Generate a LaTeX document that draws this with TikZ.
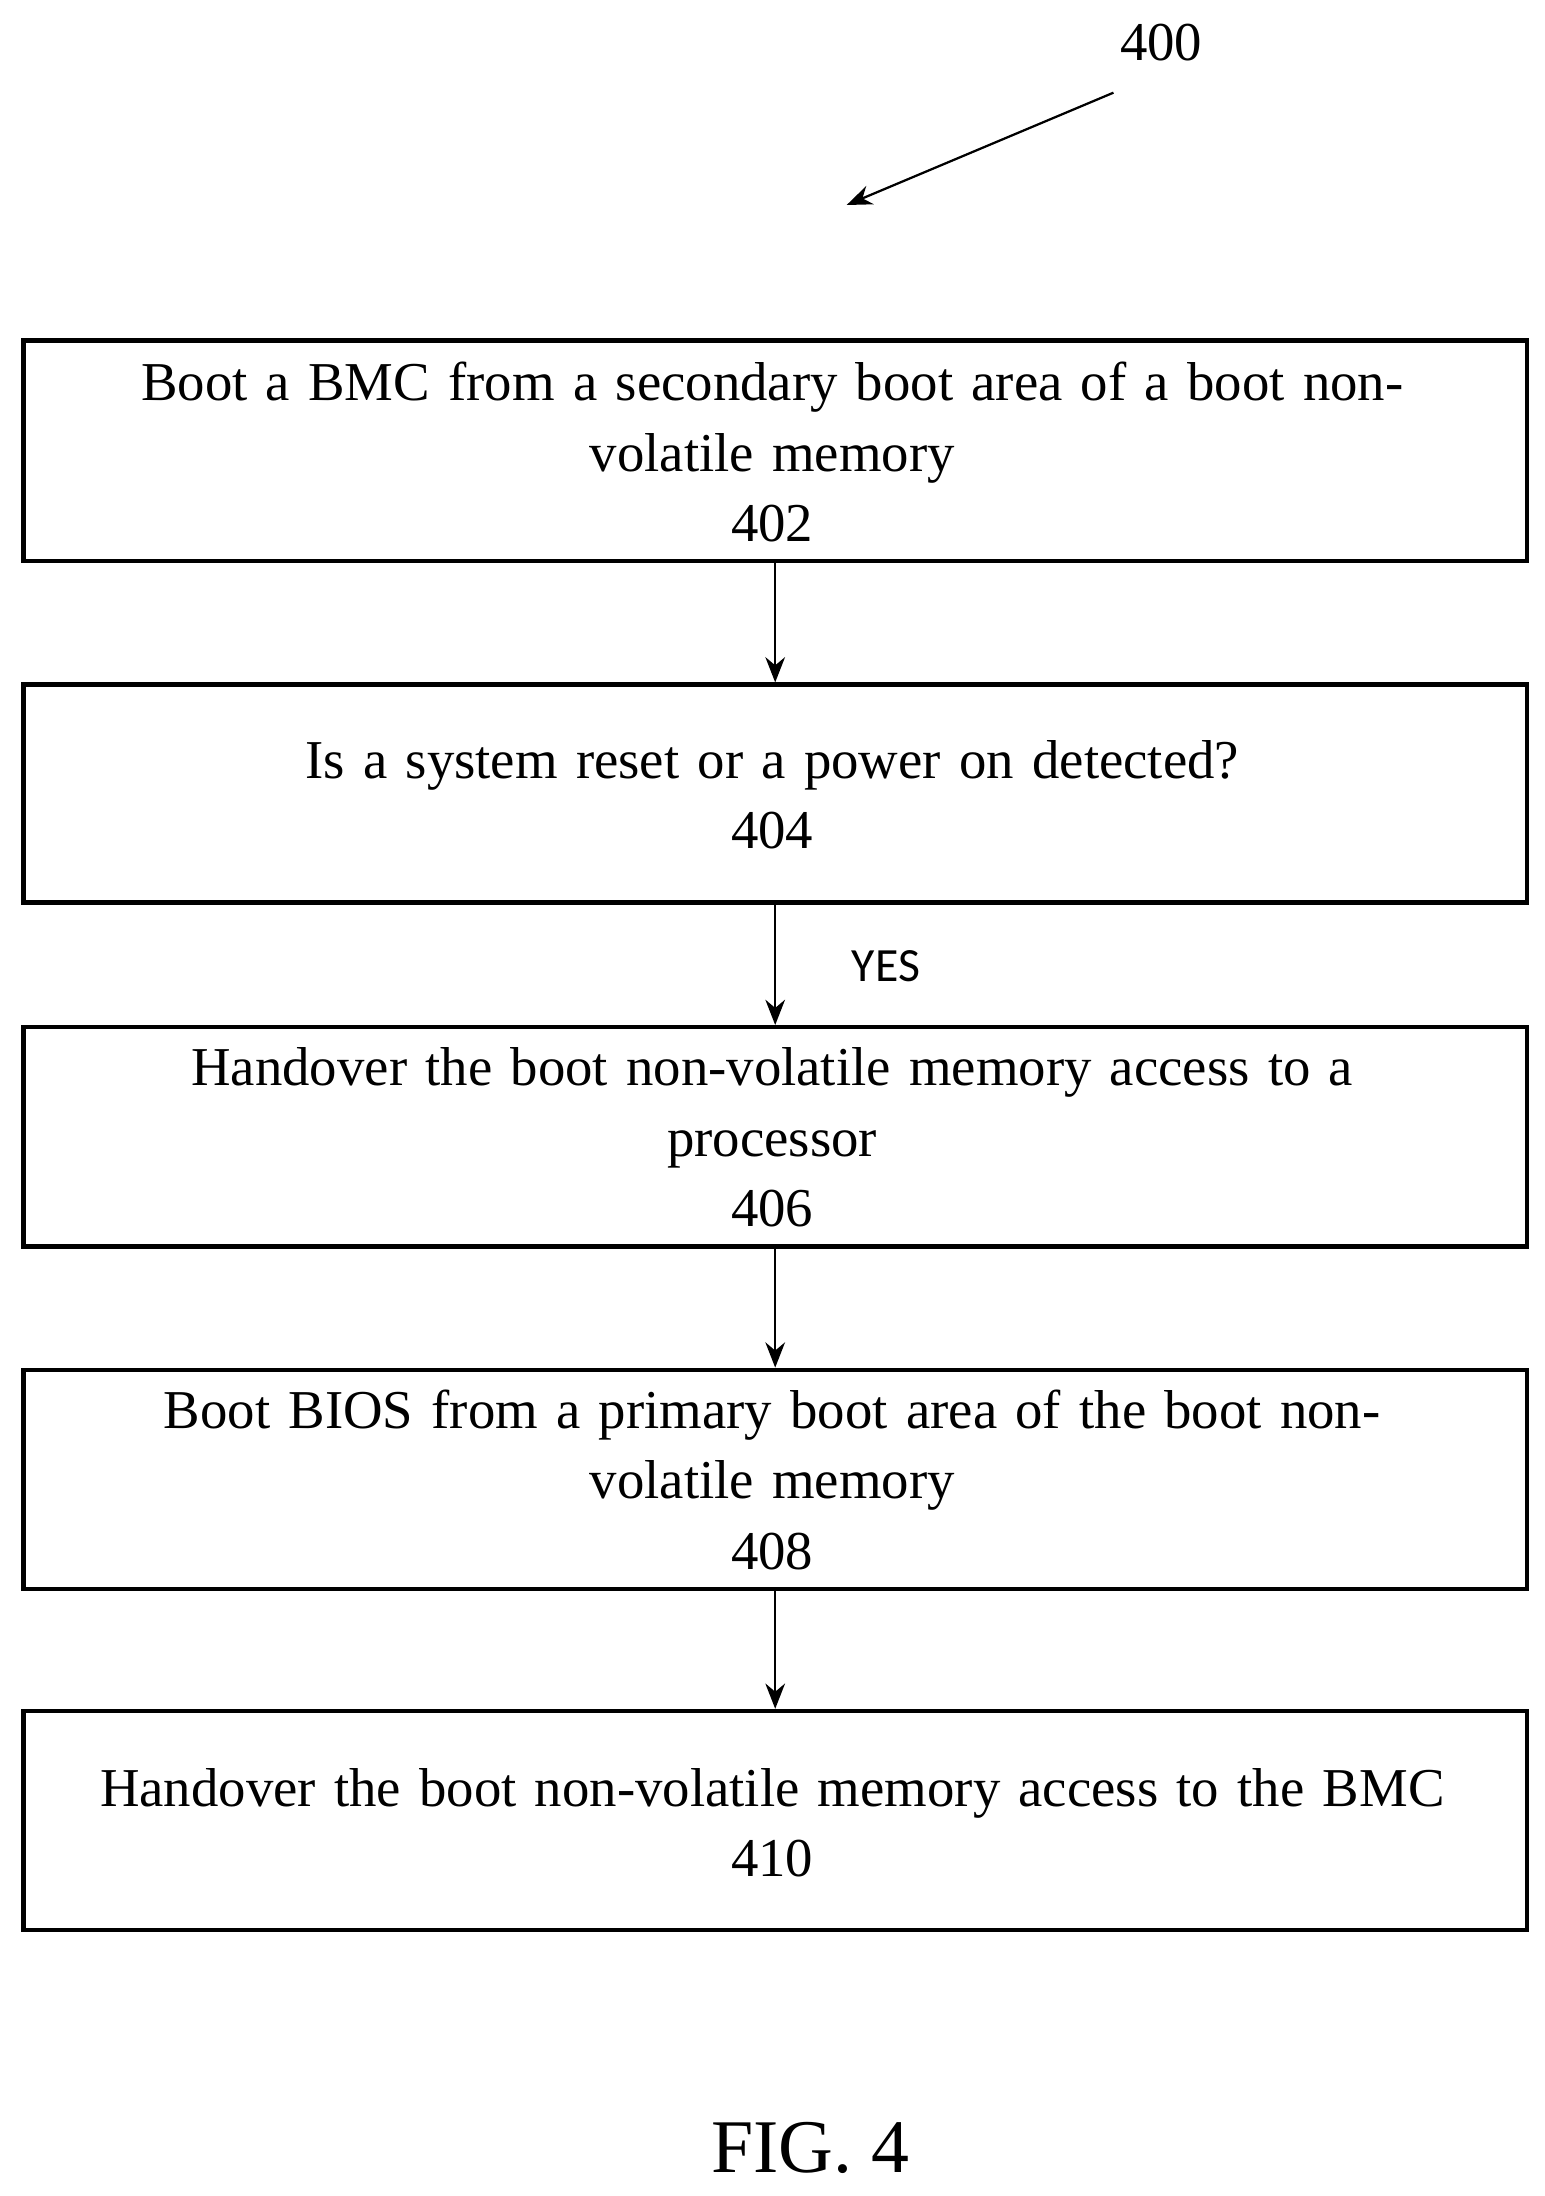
\documentclass[tikz,border=0pt]{standalone}
\usepackage{fontspec}
\setmainfont{Liberation Serif}
\newfontfamily\yesfont{Carlito}
\usetikzlibrary{arrows.meta}
\begin{document}
\begin{tikzpicture}[x=0.5pt,y=-0.5pt,
  box/.style={draw,line width=1.6pt,minimum width=535.5pt,inner sep=0pt,anchor=north west},
  txt/.style={align=center,font=\fontsize{19.5}{25}\selectfont,text width=520pt},
  arr/.style={-{Stealth[length=9pt,width=7pt]},line width=0.8pt}]
\useasboundingbox (0,0) rectangle (1100,1564);
\foreach \n/\t/\b in {a/241/398,b/486/641,c/730/886,d/974/1130,e/1217/1373}{
  \node[box,minimum height={(\b-\t)*0.5pt}] (\n) at (15,\t) {};}
\node[txt] (ta) at (550,322) {Boot a BMC from a secondary boot area of a boot non-\\volatile memory\\402};
\node[txt] (tb) at (550,566) {Is a system reset or a power on detected?\\404};
\node[txt] (tc) at (550,810) {Handover the boot non-volatile memory access to a\\processor\\406};
\node[txt] (td) at (550,1054) {Boot BIOS from a primary boot area of the boot non-\\volatile memory\\408};
\node[txt] (te) at (550,1298) {Handover the boot non-volatile memory access to the BMC\\410};
\draw[arr] (a.south) -- (b.north);
\draw[arr] (b.south) -- (c.north);
\draw[arr] (c.south) -- (d.north);
\draw[arr] (d.south) -- (e.north);
\node[font=\yesfont\fontsize{17}{20}\selectfont] (yes) at (631,688) {YES};
\node[font=\fontsize{19.5}{24}\selectfont] (n400) at (827,30) {400};
\coordinate (s) at (793,66);
\coordinate (t) at (603,146);
\draw[arr] (s) -- (t);
\node[font=\fontsize{27}{32}\selectfont] (fig) at (577,1530) {FIG. 4};
\end{tikzpicture}
\end{document}
